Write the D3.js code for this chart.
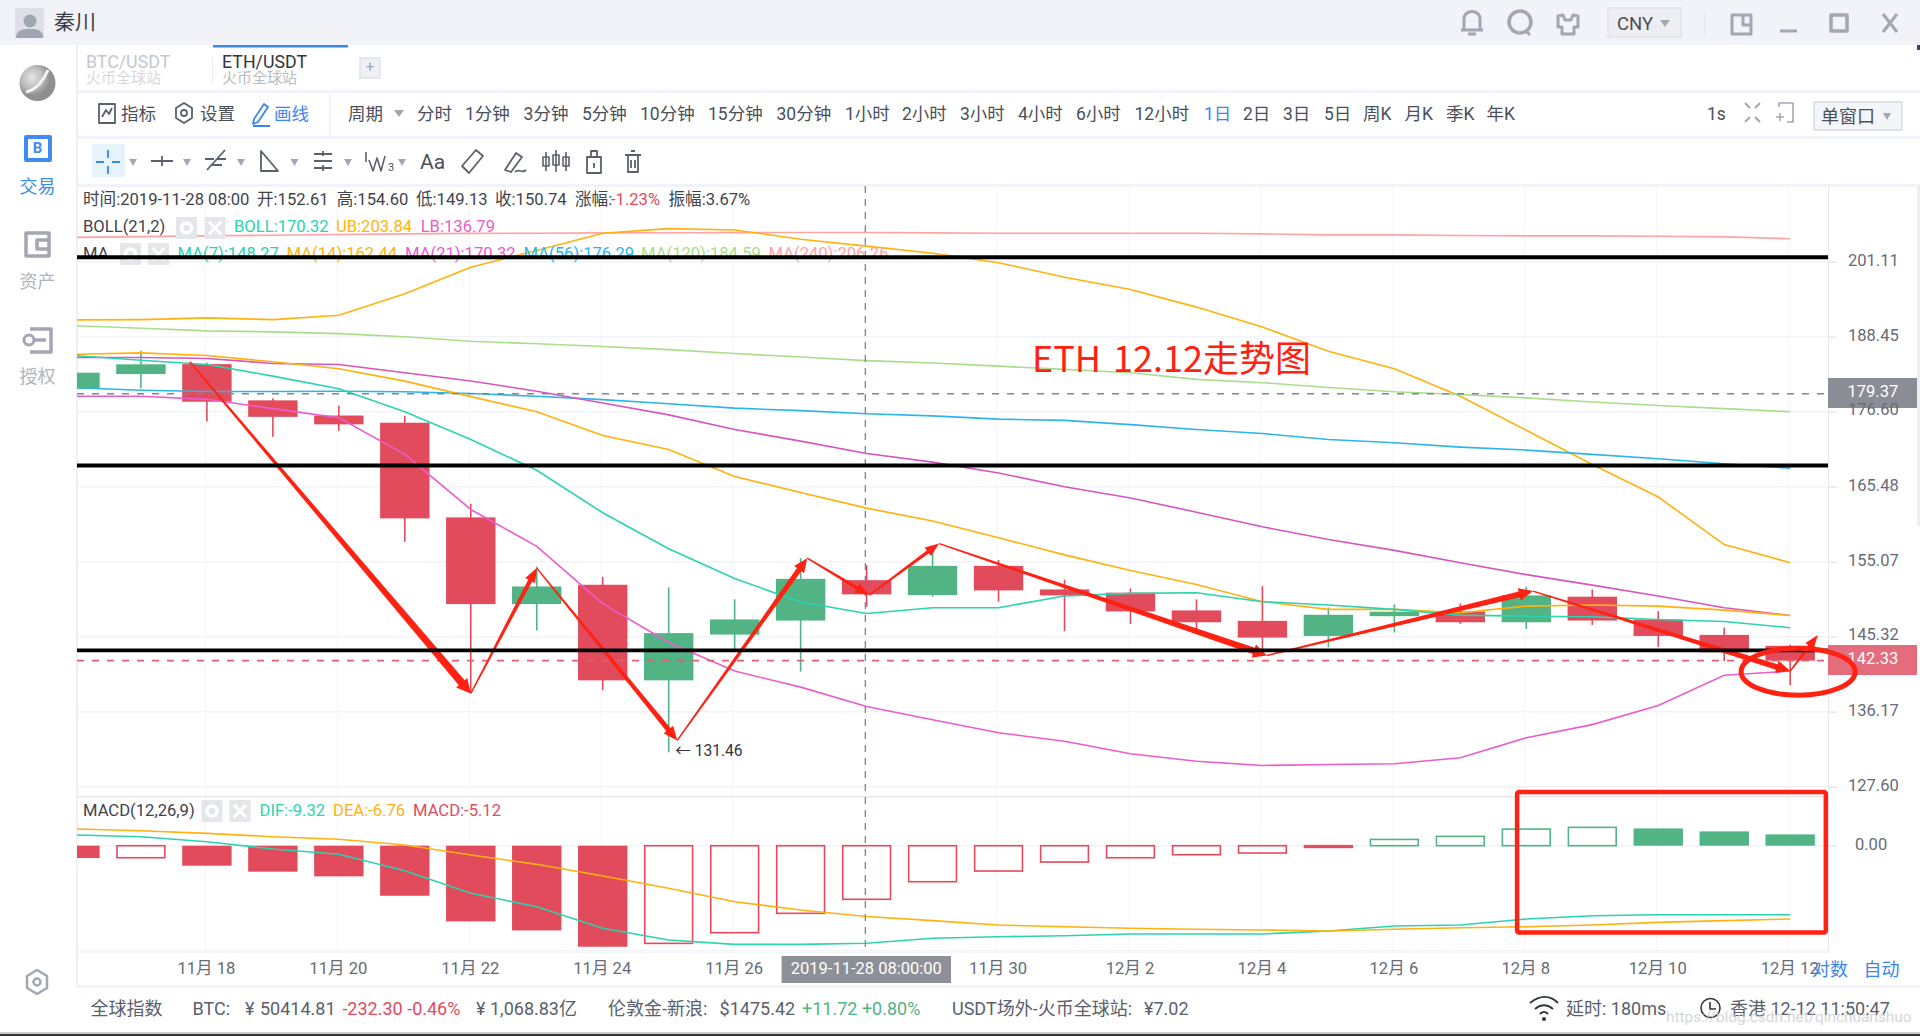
<!DOCTYPE html>
<html lang="zh">
<head>
<meta charset="utf-8">
<title>ETH/USDT</title>
<script src="https://cdn.jsdelivr.net/npm/d3@7/dist/d3.min.js"></script>
<style>
html,body{margin:0;padding:0;background:#fff;overflow:hidden}
svg{display:block;font-family:Roboto,"Noto Sans CJK SC",sans-serif}
</style>
</head>
<body>
<svg id="c" width="1920" height="1036" viewBox="0 0 1920 1036"></svg>
<script>
// ---------- chart data ----------
const dateLabels = ["11月 16","11月 17","11月 18","11月 19","11月 20","11月 21","11月 22","11月 23","11月 24","11月 25","11月 26","11月 27","11月 28","11月 29","11月 30","12月 1","12月 2","12月 3","12月 4","12月 5","12月 6","12月 7","12月 8","12月 9","12月 10","12月 11","12月 12"];
const opens  = [180.14,182.45,184.03,178.34,176.01,174.92,161.14,149.48,152.00,139.92,145.58,147.36,152.61,150.65,154.51,151.39,150.96,148.66,147.32,145.41,147.92,148.53,147.14,150.44,147.49,145.54,144.17];
const highs  = [182.67,186.19,184.25,178.65,177.50,175.96,163.04,154.42,153.04,151.65,150.09,155.54,154.60,157.16,155.30,152.69,151.52,150.09,151.82,149.01,149.44,149.57,151.74,151.39,148.57,146.45,144.29];
const lows   = [180.14,180.19,175.12,172.80,173.69,157.76,138.42,146.10,138.73,131.46,143.70,140.98,149.13,150.44,149.79,146.00,146.93,146.28,143.49,143.98,145.84,146.93,146.28,146.80,144.03,142.27,139.34];
const closes = [182.67,184.00,178.13,175.81,174.67,161.00,149.48,151.78,139.92,145.76,147.50,152.78,150.74,154.51,151.26,150.61,148.53,147.14,145.20,148.10,148.49,147.14,150.61,147.36,145.41,143.37,142.33];
const ma7    = [185.40,184.66,183.98,182.13,180.14,176.60,172.40,167.85,161.79,156.83,152.82,149.74,148.27,149.01,149.01,150.52,150.87,150.96,149.79,149.35,148.79,148.05,147.92,147.84,147.49,147.23,146.45];
const ma14   = [185.60,185.83,185.40,184.41,183.30,181.34,178.92,176.60,173.00,170.92,166.96,164.65,162.44,160.65,158.32,155.99,153.90,152.04,149.79,148.79,148.79,148.36,149.22,149.35,149.22,148.70,148.01];
const ma21   = [185.08,185.08,184.93,184.14,183.98,182.67,181.37,179.76,177.93,176.11,173.89,172.15,170.32,169.04,167.47,165.48,163.87,161.87,159.84,158.08,156.60,154.94,153.34,151.95,150.52,149.00,148.01];
const ma56   = [180.30,179.92,179.71,179.71,179.76,179.67,179.40,178.97,178.45,177.82,177.14,176.76,176.29,175.96,175.47,175.27,174.63,173.89,173.29,172.40,171.91,171.26,170.82,170.18,169.54,168.80,168.15];
const ma120  = [190.26,189.83,189.41,189.24,188.96,188.45,187.72,187.30,186.87,186.35,185.72,185.16,184.59,184.22,183.71,183.19,182.67,181.61,181.09,180.34,179.67,179.24,178.72,178.09,177.55,177.07,176.60];
const ma240  = [205.39,205.52,205.66,205.78,205.91,206.01,206.10,206.14,206.19,206.23,206.25,206.26,206.26,206.20,206.14,206.14,206.14,206.12,206.01,205.84,205.84,205.73,205.66,205.66,205.60,205.49,205.16];
const bollUp = [191.22,191.27,191.56,191.27,192.00,195.61,200.16,203.06,206.14,206.95,206.72,205.07,203.84,202.60,200.94,198.41,196.33,193.35,190.04,186.08,183.30,178.97,173.78,168.70,164.01,157.39,154.94];
const bollLow= [178.97,178.97,178.50,177.07,175.67,170.18,162.25,157.15,149.53,144.59,141.05,139.10,136.79,135.22,133.70,132.73,131.29,130.45,129.97,130.08,130.16,130.84,133.13,134.65,136.90,140.53,141.05];
const dif    = [1.02,0.86,0.38,-0.32,-0.82,-2.39,-4.55,-5.83,-7.89,-9.00,-9.42,-9.42,-9.32,-8.84,-8.69,-8.60,-8.43,-8.43,-8.43,-8.15,-7.67,-7.57,-7.00,-6.69,-6.59,-6.59,-6.59];
const dea    = [1.60,1.43,1.18,0.86,0.61,0.07,-0.89,-1.78,-2.89,-4.07,-5.35,-6.14,-6.76,-7.16,-7.57,-7.74,-7.89,-7.98,-8.05,-8.15,-7.98,-7.83,-7.74,-7.57,-7.32,-7.16,-7.00];
const macd   = [-1.18,-1.15,-1.91,-2.48,-2.93,-4.78,-7.23,-8.09,-9.65,-9.33,-8.31,-6.46,-5.12,-3.44,-2.42,-1.56,-1.15,-0.86,-0.70,-0.16,0.60,0.89,1.59,1.75,1.65,1.37,1.08];
const priceTicks = [201.11,188.45,176.60,165.48,155.07,145.32,136.17,127.60];
const priceMarkers = [179.37,142.33];
const blackLevels = [201.89,168.55,143.61];
// hand-drawn red arrows: day index and price of each turning point
const arrowDays   = [-0.26,4.00,5.00,7.13,9.10,10.04,11.10,16.07,20.10,24.00,24.42];
const arrowPrices = [184.40,138.33,154.21,132.82,155.54,150.65,157.53,142.97,151.17,141.05,145.54];
const periodLabels = ["周期","分时","1分钟","3分钟","5分钟","10分钟","15分钟","30分钟","1小时","2小时","3小时","4小时","6小时","12小时","1日","2日","3日","5日","周K","月K","季K","年K"];

// ---------- scales ----------
const svg = d3.select("#c");
const L = 77, R = 1828, T = 186, B = 953;
const x = d3.scaleLinear().domain([0,24]).range([206.9,1790.2]);
const y = d3.scaleLog().domain([127.60,201.11]).range([786.7,261.7]);
const yM = d3.scaleLinear().domain([0,-10]).range([845.7,950.4]);
const RED="#e24b5c", GREEN="#52b384", TEAL="#2bd3ae", ORANGE="#ffb20f", MAG="#ec5ccb", PUR="#d656bd", BLUE="#2cb5ea", LGREEN="#aadd8b", SALMON="#ffa3a3", INK="#4a4f5a", ICON="#a2a7b3", LINK="#3b86f0", ARROW="#ff2112";

function txt(g,xp,yp,s,o={}){
  return g.append("text").attr("x",xp).attr("y",yp).attr("dominant-baseline","middle")
    .attr("font-size",o.size||16.5).attr("fill",o.fill||INK).attr("text-anchor",o.anchor||"start").text(s);
}
function rect(g,xp,yp,w,h,fill,o={}){
  return g.append("rect").attr("x",xp).attr("y",yp).attr("width",w).attr("height",h).attr("fill",fill).attr("rx",o.rx||0).attr("stroke",o.stroke||"none").attr("stroke-width",o.sw||0);
}
function ico(g,d,o={}){
  return g.append("path").attr("d",d).attr("fill",o.fill||"none").attr("stroke",o.stroke||ICON).attr("stroke-width",o.sw||2.5).attr("stroke-linejoin","round");
}
function tri(g,cx,cy,col="#a2a7b3",s=5){ g.append("path").attr("d",`M${cx-s},${cy-3}H${cx+s}L${cx},${cy+4}Z`).attr("fill",col); }

// ---------- window chrome ----------
const ui = svg.append("g");
rect(ui,0,0,1920,45,"#f2f3f8");
rect(ui,15,8,29,30,"#dde0e6");
ui.append("circle").attr("cx",30).attr("cy",21).attr("r",6.5).attr("fill","#a0a6b2");
ico(ui,"M16,38C16,30 22,29 30,29C38,29 43,30 43,38Z",{fill:"#a0a6b2",stroke:"none"});
txt(ui,54,23.5,"秦川",{size:21,fill:"#3c3f47"});
ico(ui,"M1464,30V19C1464,9 1480,9 1480,19V30M1461,30H1483M1468,34H1476",{sw:3});
ui.append("circle").attr("cx",1520).attr("cy",22).attr("r",11).attr("fill","none").attr("stroke",ICON).attr("stroke-width",3.5);
ico(ui,"M1525,30L1530,35",{sw:3});
ico(ui,"M1558,16L1563,15L1565,20H1571L1573,15L1578,16V27H1574V34H1562V27H1558Z",{sw:3});
rect(ui,1608,8,73,29,"#eceef2",{stroke:"#e2e4e9",sw:1.5});
txt(ui,1617,25,"CNY",{size:18.5});
tri(ui,1665,23);
rect(ui,1704.5,12,1,24,"#e4e6eb");
ico(ui,"M1732,15H1751V34H1732ZM1743,15V25H1751",{sw:3});
ico(ui,"M1780,31H1797",{sw:3});
ico(ui,"M1831,15H1847V31H1831Z",{sw:3.5});
ico(ui,"M1883,14L1897,32M1897,14L1883,32",{sw:3});
rect(ui,1917,45,3,5,"#2b4a6f");

// side bar
rect(ui,76,45,2,942,"#eef0f5");
const grad = svg.append("defs").append("radialGradient").attr("id","orb").attr("cx","35%").attr("cy","35%");
grad.append("stop").attr("offset","0%").attr("stop-color","#e6e6e6");
grad.append("stop").attr("offset","60%").attr("stop-color","#bcbcbc");
grad.append("stop").attr("offset","100%").attr("stop-color","#8f8f8f");
ui.append("circle").attr("cx",37.5).attr("cy",83).attr("r",18).attr("fill","url(#orb)");
ico(ui,"M26,92C36,90 44,80 48,70",{stroke:"#f4f4f4",sw:3});
ico(ui,"M26,137H50V160H26Z",{stroke:"#3f8bf0",sw:4});
txt(ui,37.5,149,"B",{size:15,fill:"#3f8bf0",anchor:"middle"}).attr("font-weight",700);
txt(ui,37.5,188,"交易",{size:18,fill:"#3f8bf0",anchor:"middle"});
ico(ui,"M26,233H49V256H26ZM49,240H37V249H49",{sw:3.5});
txt(ui,37.5,283,"资产",{size:18,fill:"#b0b4bd",anchor:"middle"});
ico(ui,"M30,329H51V352H30M33,340H46",{sw:3.5});
ui.append("circle").attr("cx",29).attr("cy",340).attr("r",5).attr("fill","#fff").attr("stroke",ICON).attr("stroke-width",3);
txt(ui,37.5,378,"授权",{size:18,fill:"#b0b4bd",anchor:"middle"});
ico(ui,"M37,970L47,976V988L37,994L27,988V976Z",{sw:2.5});
ui.append("circle").attr("cx",37).attr("cy",982).attr("r",3.5).attr("fill","none").attr("stroke",ICON).attr("stroke-width",2.5);

// tab row
txt(ui,86,63,"BTC/USDT",{size:17.8,fill:"#c4c7ce"});
txt(ui,86,79,"火币全球站",{size:15,fill:"#d6d8dd"});
rect(ui,213,45,135,2.5,LINK);
rect(ui,212,57,1,27,"#eceef2");
txt(ui,222,63,"ETH/USDT",{size:17.8,fill:"#33363d"});
txt(ui,222,79,"火币全球站",{size:15,fill:"#b8bbc2"});
rect(ui,360,58,20,20,"#eef0f4",{stroke:"#dfe2e7",sw:1.5});
txt(ui,370,68,"+",{size:15,fill:"#a2a7b3",anchor:"middle"});
[90,136,184,985].forEach(v=>rect(ui,78,v,1842,3,"#f2f3f8"));
rect(ui,329,92,1.5,44,"#f2f3f8");

// toolbar: indicators, settings, draw
const tbY = 115.5;
ico(ui,"M99,104H115V123H99ZM102,117L106,110L109,114L112,108",{stroke:"#5b606b",sw:1.8});
txt(ui,121,tbY,"指标",{size:17.5});
ico(ui,"M184,103L192,108V118L184,123L176,118V108Z",{stroke:"#5b606b",sw:1.8});
ui.append("circle").attr("cx",184).attr("cy",113).attr("r",3).attr("fill","none").attr("stroke","#5b606b").attr("stroke-width",1.8);
txt(ui,200,tbY,"设置",{size:17.5});
ico(ui,"M254,119L264,104L268,107L258,122L253,124ZM253,126H270",{stroke:LINK,sw:1.8});
txt(ui,274,tbY,"画线",{size:17.5,fill:LINK});
const periodX=[348,417,465,523.6,582,640,708,776.5,845,902,960,1018,1076,1134.5,1204,1243,1283,1324,1363,1404.6,1446,1486.6];
periodLabels.forEach((s,i)=>txt(ui,periodX[i],tbY,s,{size:17.5,fill:s==="1日"?LINK:INK}));
tri(ui,399,113);
txt(ui,1707,tbY,"1s",{size:17.5});
ico(ui,"M1745,103L1750,108M1760,103L1755,108M1745,122L1750,117M1760,122L1755,117",{sw:2});
ico(ui,"M1779,103H1793V122H1787M1779,103V107M1776,117H1784M1780,113V121",{sw:1.6});
rect(ui,1814,102,88,28,"#f4f5f8",{stroke:"#dfe2e8",sw:1.8});
txt(ui,1821,118,"单窗口",{size:18});
tri(ui,1887,116,"#a2a7b3",4);

// drawing tools
rect(ui,92,144,33,33,"#e7f3fb");
ico(ui,"M108,150V158M108,166V174M96,162H104M112,162H120",{stroke:LINK,sw:1.8});
[133,187,241,294.5,348,402].forEach(v=>tri(ui,v,162,"#a2a7b3",4));
ico(ui,"M151,161H173M162,156V166",{stroke:"#5b606b",sw:1.8});
ico(ui,"M207,170L225,150M205,159H214M217,159H226M211,165H222",{stroke:"#5b606b",sw:1.8});
ico(ui,"M261,151V171H278Z",{stroke:"#5b606b",sw:1.8});
ico(ui,"M314,154H332M314,161H332M314,168H332M323,151V156M323,165V171",{stroke:"#5b606b",sw:1.8});
ico(ui,"M366,152V162M369,160L373,171L377,158L381,171L385,156",{stroke:"#5b606b",sw:1.6});
txt(ui,388,168,"3",{size:11});
txt(ui,420,163,"Aa",{size:21});
ico(ui,"M462,166L476,150L483,156L469,173Z",{stroke:"#5b606b",sw:1.8});
ico(ui,"M505,170L516,153L522,157L511,172ZM515,172C519,168 522,174 526,170",{stroke:"#5b606b",sw:1.8});
ico(ui,"M546,152V171M556,150V172M566,152V171M543,157H549V166H543ZM553,155H559V165H553ZM563,157H569V166H563Z",{stroke:"#5b606b",sw:1.6});
ico(ui,"M587,157H601V173H587ZM591,157V151H597V157M594,163V168",{stroke:"#5b606b",sw:1.8});
ico(ui,"M625,155H641M628,155V172H638V155M631,151H635M631,160V168M635,160V168",{stroke:"#5b606b",sw:1.8});

// ---------- plot ----------
svg.append("defs").append("clipPath").attr("id","plot").append("rect").attr("x",L).attr("y",T).attr("width",R-L).attr("height",B-T);
const evenDays = d3.range(0,25,2);
const indices = d3.range(dateLabels.length);
const dayOf = i => i-2;
const plot = svg.append("g").attr("clip-path","url(#plot)");

// grid
plot.append("g").selectAll("line").data(priceTicks.concat()).join("line")
  .attr("x1",L).attr("x2",R).attr("y1",d=>y(d)).attr("y2",d=>y(d)).attr("stroke","#f1f3f8").attr("stroke-width",1.5);
plot.append("g").selectAll("line").data(evenDays).join("line")
  .attr("x1",d=>x(d)-1.5).attr("x2",d=>x(d)-1.5).attr("y1",T).attr("y2",B).attr("stroke","#f3f5f9").attr("stroke-width",1);
plot.append("line").attr("x1",L).attr("x2",R).attr("y1",yM(0)).attr("y2",yM(0)).attr("stroke","#f1f3f8").attr("stroke-width",1.5);
rect(plot,L,796,R-L,1.5,"#e6e8ec");
rect(plot,L,950,R-L,1.5,"#f1f3f8");
rect(plot,L,952.5,R-L,1.5,"#e6e8ec");

// K-line candles
const bw = 49.4;
const candle = plot.append("g").selectAll("g").data(indices).join("g");
const col = i => closes[i]>=opens[i]?GREEN:RED;
candle.append("line").attr("x1",i=>x(dayOf(i))).attr("x2",i=>x(dayOf(i)))
  .attr("y1",i=>y(highs[i])).attr("y2",i=>y(lows[i])).attr("stroke",col).attr("stroke-width",1.6);
candle.append("rect").attr("x",i=>x(dayOf(i))-bw/2).attr("width",bw)
  .attr("y",i=>y(Math.max(opens[i],closes[i])))
  .attr("height",i=>Math.abs(y(opens[i])-y(closes[i])))
  .attr("fill",col);

// MACD histogram
const histo = plot.append("g").selectAll("rect").data(indices).join("rect");
const rising = i => i>0 && macd[i]>macd[i-1];
histo.attr("x",i=>x(dayOf(i))-bw/2+(rising(i)?.8:0)).attr("width",i=>rising(i)?bw-1.6:bw)
  .attr("y",i=>Math.min(yM(0),yM(macd[i])))
  .attr("height",i=>Math.abs(yM(macd[i])-yM(0)))
  .attr("fill",i=>rising(i)?"none":(macd[i]<0?RED:GREEN))
  .attr("stroke",i=>rising(i)?(macd[i]<0?RED:GREEN):"none")
  .attr("stroke-width",1.6);

// indicator lines
const line = (sc) => d3.line().x((d,i)=>x(dayOf(i))).y(d=>sc(d));
[[ma240,SALMON],[bollUp,ORANGE],[ma120,LGREEN],[ma56,BLUE],[ma21,PUR],[ma14,ORANGE],[ma7,TEAL],[bollLow,MAG]].forEach(([s,c])=>{
  plot.append("path").attr("d",line(y)(s)).attr("fill","none").attr("stroke",c).attr("stroke-width",1.6);
});
[[dif,TEAL],[dea,ORANGE]].forEach(([s,c])=>{
  plot.append("path").attr("d",line(yM)(s)).attr("fill","none").attr("stroke",c).attr("stroke-width",1.6);
});

// last/selected price dashes
priceMarkers.forEach((p,i)=>{
  svg.append("line").attr("x1",L).attr("x2",R+9).attr("y1",y(p)).attr("y2",y(p))
    .attr("stroke",i?"#e0606f":"#7d8896").attr("stroke-width",i?1.7:1.4).attr("stroke-dasharray","7,8");
});
// crosshair
const crossX = x(dayOf(12))-1.3;
plot.append("line").attr("x1",crossX).attr("x2",crossX).attr("y1",T).attr("y2",B).attr("stroke","#6f8196").attr("stroke-width",1.2).attr("stroke-dasharray","7,6");

// low label
const lowI = lows.indexOf(d3.min(lows));
txt(svg,x(dayOf(lowI))+6.5,y(lows[lowI]),"← "+lows[lowI].toFixed(2),{size:15.6,fill:"#33363d"});

// ---------- hand-drawn annotation ----------
const ann = svg.append("g");
function arrowPath(a,b){
  const dx=b[0]-a[0],dy=b[1]-a[1],len=Math.hypot(dx,dy),ux=dx/len,uy=dy/len,nx=-uy,ny=ux;
  const w1=2.6+len/85,hl=14,hw=w1/2+3.5,cx=b[0]-ux*hl,cy=b[1]-uy*hl,w0=1.4;
  const pts=[[a[0]+nx*w0/2,a[1]+ny*w0/2],[cx+nx*w1/2,cy+ny*w1/2],[cx+nx*hw,cy+ny*hw],b,[cx-nx*hw,cy-ny*hw],[cx-nx*w1/2,cy-ny*w1/2],[a[0]-nx*w0/2,a[1]-ny*w0/2]];
  return "M"+pts.map(p=>p.join(",")).join("L")+"Z";
}
arrowDays.slice(1).forEach((d,i)=>{
  const a=[x(arrowDays[i]),y(arrowPrices[i])], b=[x(d),y(arrowPrices[i+1])];
  ann.append("path").attr("d",arrowPath(a,b)).attr("fill",ARROW);
});
blackLevels.forEach(p=>{
  ann.append("line").attr("x1",L).attr("x2",R).attr("y1",y(p)).attr("y2",y(p)).attr("stroke","#000").attr("stroke-width",3.8);
});
ann.append("ellipse").attr("cx",x(24.12)).attr("cy",y(140.98)).attr("rx",57).attr("ry",23.5).attr("fill","none").attr("stroke",ARROW).attr("stroke-width",5);
ann.append("rect").attr("x",x(19.86)).attr("y",yM(5.12)).attr("width",x(24.54)-x(19.86)).attr("height",yM(-8.3)-yM(5.12))
  .attr("fill","none").attr("stroke",ARROW).attr("stroke-width",4.5).attr("rx",2);
txt(ann,1032,362,"ETH",{size:36,fill:ARROW}).attr("font-family",'"Noto Sans CJK SC",sans-serif');
txt(ann,1113,362,"12.12走势图",{size:36,fill:ARROW}).attr("font-family",'"Noto Sans CJK SC",sans-serif');

// ---------- axes ----------
rect(svg,R,T,1,B-T,"#e6e8ec");
rect(svg,R,378,89,30,"#8a8d96");
rect(svg,R,645,89,30,"#e56c7c");
rect(svg,1917,186,3,340,"#eceef1");
const ay = svg.append("g").attr("transform",`translate(${R},0)`)
  .call(d3.axisRight(y).tickValues(priceTicks).tickFormat(d3.format(".2f")).tickSize(9).tickPadding(11));
const am = svg.append("g").attr("transform",`translate(${R},0)`)
  .call(d3.axisRight(yM).tickValues([0]).tickFormat(d3.format(".2f")).tickSize(9).tickPadding(18));
[ay,am].forEach(a=>{
  a.select(".domain").remove();
  a.selectAll("line").attr("stroke","#e6e8ec").attr("stroke-width",1.5);
  a.selectAll("text").attr("fill","#666b75").attr("font-size",16.5).attr("font-family","Roboto").attr("dy","0.2em");
});
priceMarkers.forEach(p=>txt(svg,R+19.5,y(p)-1,p.toFixed(2),{size:16.5,fill:"#fff"}));

const ax = svg.append("g").attr("transform",`translate(-1,${B})`)
  .call(d3.axisBottom(x).tickValues(evenDays).tickFormat(d=>dateLabels[d+2]).tickSize(0).tickPadding(9.5));
ax.select(".domain").remove();
ax.selectAll("text").attr("fill","#666b75").attr("font-size",16.6).attr("font-family",'Roboto,"Noto Sans CJK SC"');

rect(svg,781.6,956,169.4,27,"#888b93").attr("opacity",.96);
txt(svg,crossX+1,969.5,"2019-11-28 08:00:00",{size:16.5,fill:"#fff",anchor:"middle"});
txt(svg,1812,971,"对数",{size:18,fill:LINK});
txt(svg,1863.5,971,"自动",{size:18,fill:LINK});

// ---------- legends ----------
const lg = svg.append("g");
const FS=16.6, FC="#3f434c";
[[83,"时间:2019-11-28 08:00"],[257,"开:152.61"],[336.7,"高:154.60"],[416,"低:149.13"],[495,"收:150.74"],[575,"涨幅:"]].forEach(([xp,s])=>txt(lg,xp,201,s,{size:FS,fill:FC}));
txt(lg,611,201,"-1.23%",{size:FS,fill:RED});
txt(lg,668.5,201,"振幅:3.67%",{size:FS,fill:FC});
function chip(g,cx,cy,isX){
  rect(g,cx-10.5,cy-11,21,22,"#e4e6ea");
  if(isX) ico(g,`M${cx-6},${cy-6}L${cx+6},${cy+6}M${cx+6},${cy-6}L${cx-6},${cy+6}`,{stroke:"#fff",sw:3});
  else { g.append("circle").attr("cx",cx).attr("cy",cy).attr("r",5).attr("fill","none").attr("stroke","#fff").attr("stroke-width",3.5); }
}
txt(lg,83,228,"BOLL(21,2)",{size:FS,fill:FC});
chip(lg,186.5,228,false); chip(lg,215,228,true);
txt(lg,234,228,"BOLL:170.32",{size:FS,fill:TEAL});
txt(lg,336,228,"UB:203.84",{size:FS,fill:ORANGE});
txt(lg,420.7,228,"LB:136.79",{size:FS,fill:MAG});
txt(lg,83,254.5,"MA",{size:FS,fill:FC});
chip(lg,130.5,254,false); chip(lg,158.5,254,true);
[[177.6,"MA(7):148.27",TEAL],[286.6,"MA(14):162.44",ORANGE],[405,"MA(21):170.32",MAG],[523.6,"MA(56):176.29",BLUE],[641,"MA(120):184.59",LGREEN],[768.5,"MA(240):206.26",SALMON]]
  .forEach(([xp,s,c])=>txt(lg,xp,254.5,s,{size:FS,fill:c}));
// black line overprints the MA legend row
ann.raise();
const mg = svg.append("g");
txt(mg,83,812,"MACD(12,26,9)",{size:FS,fill:FC});
chip(mg,212,811,false); chip(mg,240,811,true);
txt(mg,259.5,812,"DIF:-9.32",{size:FS,fill:TEAL});
txt(mg,333,812,"DEA:-6.76",{size:FS,fill:ORANGE});
txt(mg,413,812,"MACD:-5.12",{size:FS,fill:RED});

// ---------- status bar ----------
const st = svg.append("g");
const S="#5a5f6b", SS=18, SY=1010.5;
txt(st,90.6,SY,"全球指数",{fill:S,size:SS});
txt(st,192.6,SY,"BTC:",{fill:S,size:SS});
txt(st,245,SY,"¥",{fill:S,size:SS});
txt(st,260,SY,"50414.81",{fill:S,size:SS});
txt(st,342.4,SY,"-232.30 -0.46%",{fill:RED,size:SS});
txt(st,476,SY,"¥",{fill:S,size:SS});
txt(st,490,SY,"1,068.83亿",{fill:S,size:SS});
txt(st,608,SY,"伦敦金-新浪:",{fill:S,size:SS});
txt(st,719.6,SY,"$1475.42",{fill:S,size:SS});
txt(st,802,SY,"+11.72 +0.80%",{fill:GREEN,size:SS});
txt(st,952,SY,"USDT场外-火币全球站:",{fill:S,size:SS});
txt(st,1144,SY,"¥7.02",{fill:S,size:SS});
ico(st,"M1530,1003C1540,995 1550,995 1558,1003M1535,1009C1541,1004 1547,1004 1553,1009M1540,1014C1543,1011 1545,1011 1548,1014",{stroke:"#33363d",sw:2});
st.append("circle").attr("cx",1544).attr("cy",1019).attr("r",2).attr("fill","#33363d");
txt(st,1566,SY,"延时:  180ms",{fill:S,size:SS});
st.append("circle").attr("cx",1710.5).attr("cy",1008).attr("r",9.5).attr("fill","none").attr("stroke","#33363d").attr("stroke-width",1.6);
ico(st,"M1710,1002V1009H1716",{stroke:"#33363d",sw:1.6});
txt(st,1730,SY,"香港 12-12 11:50:47",{fill:S,size:SS});
txt(st,1666,1018,"https://blog.csdn.net/qinchuanshuo",{size:15.4,fill:"#c8c9cc"}).attr("opacity",.75);
rect(st,0,1032,1920,2,"#cfcfcf");
rect(st,0,1034,1920,2,"#333");
</script>
</body>
</html>
